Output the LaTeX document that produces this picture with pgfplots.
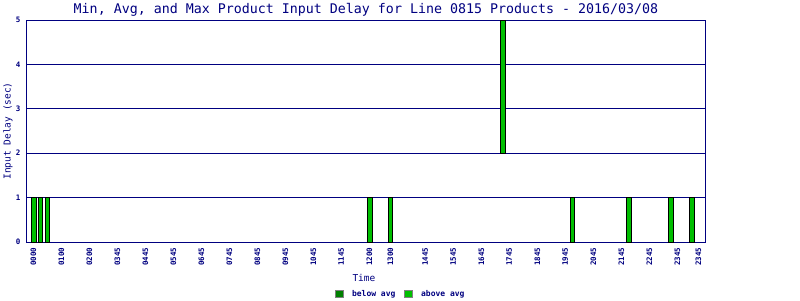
\documentclass[border=0pt]{standalone}
\usepackage{fontspec}
\setmainfont{DejaVu Sans Mono}
\usepackage{pgfplots}
\pgfplotsset{compat=1.18}
\definecolor{navy}{RGB}{0,0,128}
\definecolor{barg}{RGB}{0,190,0}
\definecolor{darkg}{RGB}{0,128,0}
\definecolor{lightg}{RGB}{0,192,0}
\pgfplotstableread{
x lo hi
0.02 0 1
0.25 0 1
0.51 0 1
12.02 0 1
12.76 0 1
16.77 2 3
19.26 0 1
21.27 0 1
22.77 0 1
23.52 0 1
}\delays
\begin{document}
\begin{tikzpicture}[x=1pt,y=1pt]
\useasboundingbox (0,0) rectangle (800,300);
\begin{axis}[
  at={(26.7pt,58pt)}, anchor=south west,
  scale only axis, width=678.6pt, height=222pt,
  xmin=-0.236, xmax=24, ymin=0, ymax=5,
  ybar stacked, bar width=4.2pt,
  axis line style={navy, line width=1pt},
  ymajorgrids, grid style={navy, line width=1pt},
  major tick length=0pt,
  /pgf/number format/assume math mode=true,
  ytick={0,...,5},
  xtick={0,1,...,12,12.75,14,15,...,23,23.75},
  xticklabels={0000,0100,0200,0345,0445,0545,0645,0745,0845,0945,1045,1145,1200,1300,1445,1545,1645,1745,1845,1945,2045,2145,2245,2345,2345},
  tick label style={font=\fontsize{7.5}{8}\selectfont\bfseries, text=navy, inner sep=0pt},
  xticklabel style={rotate=90, anchor=east},
  xticklabel shift=5.7pt,
  yticklabel style={anchor=east},
  yticklabel shift=6pt,
  xlabel={Time},
  ylabel={Input Delay (sec)},
  label style={font=\fontsize{9.5}{10}\selectfont, text=navy},
  xlabel style={at={(axis description cs:0.497,-0.161)}, anchor=center, inner sep=0pt},
  ylabel style={at={(axis description cs:-0.0276,0.5)}, anchor=center, inner sep=0pt},
  title={Min, Avg, and Max Product Input Delay for Line 0815 Products - 2016/03/08},
  every axis title/.style={font=\fontsize{13.3}{14}\selectfont, text=navy, at={(axis description cs:0.5,1.045)}, anchor=center, inner sep=0pt},
  legend style={at={(axis description cs:0.55,-0.236)}, anchor=center, draw=none, fill=none,
    legend columns=-1, font=\fontsize{8}{9}\selectfont\bfseries, text=navy, inner sep=0pt,
    nodes={inner sep=0pt},
    /tikz/every odd column/.append style={column sep=8pt},
    /tikz/every even column/.append style={column sep=9pt}},
]
\addlegendimage{legend image code/.code={\draw[fill=darkg, draw=gray, line width=1pt] (0pt,-3.5pt) rectangle (7.7pt,3.5pt);}}
\addlegendimage{legend image code/.code={\draw[fill=lightg, draw=gray, line width=1pt] (0pt,-3.5pt) rectangle (7.7pt,3.5pt);}}
\addplot[draw=none, fill=none] table[x=x, y=lo] {\delays};
\addplot[draw=black, fill=barg, line width=0.8pt] table[x=x, y=hi] {\delays};
\legend{below avg, above avg}
\end{axis}
\end{tikzpicture}
\end{document}
